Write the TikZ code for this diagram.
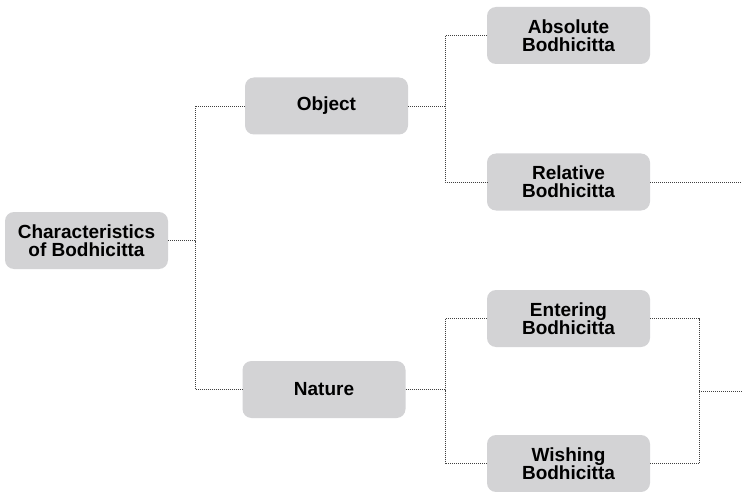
\documentclass[tikz,border=0pt]{standalone}
\usepackage{fontspec}
\setmainfont{Liberation Sans}
\begin{document}
\begin{tikzpicture}[x=1pt,y=-1pt,
  box/.style={fill=boxgray, rounded corners=9pt, minimum width=163pt,
    minimum height=57pt, align=center, inner sep=0pt,
    font=\fontsize{19}{18}\selectfont\bfseries, text=black},
  link/.style={draw=black!75, line width=0.8pt, dash pattern=on 1pt off 1pt}]
\definecolor{boxgray}{HTML}{D3D3D5}
\useasboundingbox (0,0) rectangle (742,492);
% nodes
\node[box] (root) at (86.5,240.5) {Characteristics\\of Bodhicitta};
\node[box] (obj) at (326.5,106) {Object};
\node[box] (nat) at (324,389.5) {Nature};
\node[box] (abs) at (568.5,35.5) {Absolute\\Bodhicitta};
\node[box] (rel) at (568.5,182) {Relative\\Bodhicitta};
\node[box] (ent) at (568.5,318.5) {Entering\\Bodhicitta};
\node[box] (wis) at (568.5,463.5) {Wishing\\Bodhicitta};
% free ends at the right edge
\coordinate (relout) at (742,182);
\coordinate (mergeout) at (742,391);
% connectors
\draw[link] (root.east) -- (195,240.5);
\draw[link] (obj.west) -| (195,240.5) |- (nat.west);
\draw[link] (obj.east) -- (445,106);
\draw[link] (abs.west) -| (445,106) |- (rel.west);
\draw[link] (nat.east) -- (445,389.5);
\draw[link] (ent.west) -| (445,389.5) |- (wis.west);
\draw[link] (rel.east) -- (relout);
\draw[link] (ent.east) -| (699,391) |- (wis.east);
\draw[link] (699,391) -- (mergeout);
\end{tikzpicture}
\end{document}
